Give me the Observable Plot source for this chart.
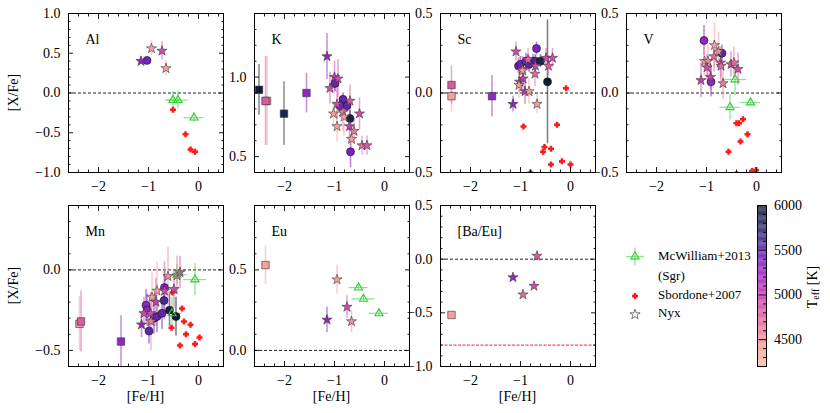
<!DOCTYPE html>
<html><head><meta charset="utf-8">
<script src="https://cdn.jsdelivr.net/npm/d3@7"></script>
<script src="https://cdn.jsdelivr.net/npm/@observablehq/plot@0.6"></script>
<style>
body{margin:0;background:#fff;}
#fig{position:relative;width:830px;height:413px;font-family:"Liberation Serif",serif;overflow:hidden;}
#fig svg{position:absolute;}
#fig svg text{font-family:"Liberation Serif",serif !important;font-weight:normal !important;}
</style></head><body><div id="fig"></div>
<script>
// ---------- data: [Fe/H], value, error, Teff ----------
const alNyx = [[-1.15,0.40,0.04,5300],[-0.94,0.56,0.095,4400],[-0.73,0.53,0.115,4900],[-0.65,0.31,0.095,4400]];
const alCirc = [[-1.03,0.41,0.03,5400]];
const alMcw = [[-0.51,-0.09,0.15,0.11],[-0.41,-0.09,0.2,0.11],[-0.09,-0.31,0.2,0.06]];
const alSbo = [[-0.51,-0.21],[-0.26,-0.52],[-0.16,-0.71],[-0.07,-0.74]];

const kNyx = [[-1.15,1.13,0.145,5300],[-1.00,1.00,0.1,5000],[-0.93,0.99,0.12,4900],[-1.09,0.93,0.1,4900],[-0.95,0.83,0.1,4900],[-0.69,0.85,0.1,4800],[-1.02,0.77,0.08,4400],[-0.83,0.78,0.12,4600],[-0.81,0.75,0.12,4400],[-0.50,0.77,0.1,4900],[-0.95,0.69,0.1,4400],[-0.70,0.69,0.1,5000],[-0.61,0.66,0.08,4600],[-0.66,0.61,0.1,4400],[-0.45,0.57,0.06,4700],[-0.35,0.57,0.06,4800]];
const kCirc = [[-0.99,0.96,0.05,5500],[-0.83,0.86,0.04,5500],[-0.89,0.82,0.05,5400],[-0.75,0.82,0.04,5500],[-0.69,0.74,0.05,5900],[-0.68,0.53,0.1,5400]];
const kSq = [[-2.51,0.92,0.16,6000],[-2.35,0.85,0.28,4400],[-2.38,0.85,0.28,4800],[-2.01,0.77,0.2,5900],[-1.56,0.90,0.125,5300]];

const scNyx = [[-1.15,-0.07,0.05,5300],[-1.09,0.26,0.06,4900],[-0.96,0.15,0.08,4900],[-0.96,0.14,0.06,4400],[-0.85,0.21,0.07,4700],[-1.02,0.07,0.07,5000],[-0.95,0.09,0.06,5000],[-1.03,0.05,0.08,4400],[-0.91,0.01,0.08,5100],[-0.83,0.01,0.08,4400],[-0.71,0.12,0.08,4700],[-0.70,0.17,0.07,4900],[-0.67,-0.07,0.06,4400],[-0.49,0.22,0.06,4900],[-0.44,0.17,0.06,4800],[-0.36,0.22,0.06,4900]];
const scCirc = [[-1.04,0.17,0.05,5400],[-1.00,0.18,0.05,5500],[-0.89,0.20,0.05,5400],[-0.83,0.18,0.05,5500],[-0.75,0.20,0.04,5500],[-0.70,0.20,0.04,5600],[-0.68,0.28,0.04,5400],[-0.60,0.20,0.04,5900],[-0.46,0.07,0.39,6000]];
const scSq = [[-2.38,-0.02,0.1,4400],[-2.38,0.05,0.12,4800],[-1.57,-0.02,0.13,5300]];
const scSbo = [[-0.94,-0.21],[-0.27,-0.20],[-0.52,-0.34],[-0.55,-0.37],[-0.39,-0.35],[-0.39,-0.45],[-0.17,-0.43],[0.0,-0.45],[-0.80,-0.50],[-0.09,0.03]];

const vNyx = [[-1.11,0.08,0.11,5000],[-1.04,0.20,0.1,4400],[-0.97,0.20,0.1,4500],[-0.99,0.16,0.08,4900],[-0.92,0.10,0.08,5000],[-0.84,0.30,0.14,4400],[-0.85,0.23,0.1,4700],[-0.76,0.26,0.12,4500],[-0.72,0.19,0.1,4900],[-0.71,0.17,0.1,4700],[-0.67,0.06,0.1,4600],[-0.51,0.18,0.08,4900],[-0.45,0.19,0.1,4700],[-0.37,0.15,0.1,4900]];
const vCirc = [[-1.05,0.33,0.095,5300],[-0.91,0.07,0.095,5300],[-0.69,0.25,0.05,5500]];
const vMcw = [[-0.43,0.085,0.23,0.1],[-0.53,-0.09,0.2,0.08],[-0.12,-0.06,0.2,0.02]];
const vSbo = [[-0.27,-0.165],[-0.40,-0.19],[-0.35,-0.19],[-0.18,-0.26],[-0.32,-0.305],[-0.56,-0.37],[-0.09,-0.49],[-0.01,-0.485],[-0.40,-0.51]];

const mnNyx = [[-1.14,-0.34,0.08,5300],[-1.09,-0.27,0.1,4900],[-0.96,-0.27,0.12,4900],[-0.93,-0.17,0.15,4400],[-0.95,-0.32,0.18,4600],[-0.85,-0.20,0.15,5000],[-0.83,-0.13,0.18,4400],[-0.68,-0.13,0.18,4900],[-0.61,-0.04,0.18,4500],[-0.49,-0.12,0.12,4900],[-0.43,-0.035,0.12,4700],[-0.37,-0.015,0.1,4900]];
const mnCirc = [[-1.05,-0.22,0.1,5300],[-1.03,-0.25,0.1,5300],[-0.99,-0.38,0.08,5500],[-0.89,-0.30,0.1,5400],[-0.83,-0.29,0.1,5500],[-0.73,-0.27,0.1,5500],[-0.69,-0.19,0.1,5600],[-0.68,-0.11,0.1,5400],[-0.58,-0.25,0.1,5900],[-0.45,-0.29,0.12,6000]];
const mnSq = [[-2.38,-0.335,0.17,4400],[-2.35,-0.32,0.19,4800],[-1.55,-0.445,0.16,5300]];
const mnMcw = [[-0.53,-0.27,0.2,0.1],[-0.43,-0.03,0.2,0.06],[-0.07,-0.06,0.23,0.1]];
const mnSbo = [[-0.52,-0.14],[-0.33,-0.24],[-0.54,-0.36],[-0.29,-0.32],[-0.16,-0.34],[-0.25,-0.40],[0.02,-0.42],[-0.07,-0.46],[-0.37,-0.47]];

const euNyx = [[-0.95,0.44,0.09,4400],[-0.75,0.27,0.07,4900],[-1.15,0.19,0.08,5300],[-0.66,0.18,0.07,4500]];
const euSq = [[-2.38,0.53,0.12,4400]];
const euMcw = [[-0.52,0.39,0.19,0.02],[-0.42,0.32,0.23,0.02],[-0.11,0.23,0.19,0.02]];

const baNyx = [[-0.67,0.03,0,4800],[-1.15,-0.17,0,5300],[-0.73,-0.25,0,4900],[-0.95,-0.33,0,4700]];
const baSq = [[-2.38,-0.52,0,4400]];
const baEuR = -0.80;

// colour map for Teff
const teffStops = [4200,4400,4600,4800,5000,5200,5400,5600,5800,6000];
const teffColors = ["#fbbca8","#f5a09c","#ea7c9b","#db5aa3","#c63cb2","#a62ac2","#7a22c4","#4a2a90","#2a2a5c","#0f1b30"];
const xTicks = [-2,-1,0];
const cbTicks = [4500,5000,5500,6000];

// ---------- helpers ----------
const fig = document.getElementById("fig");
const green = "#33cc33";
const FONT = "'Liberation Serif', serif";
const colorOpts = {type:"linear", domain: teffStops, range: teffColors, clamp:true};
const fmt1 = d => d3.format(".1f")(d).replace("-", "\u2212");
const fmt0 = d => d3.format("d")(d).replace("-", "\u2212");
function minors(dom, step, maj){
  const out=[]; const a=Math.ceil(dom[0]/step-1e-9), b=Math.floor(dom[1]/step+1e-9);
  for(let i=a;i<=b;i++){const v=+(i*step).toFixed(6); if(!maj.some(m=>Math.abs(m-v)<1e-9)) out.push(v);}
  return out;
}
const plusSym = {draw(ctx,size){const r=Math.sqrt(size/Math.PI),a=r,b=r*0.42;
  ctx.moveTo(-b,-a);ctx.lineTo(b,-a);ctx.lineTo(b,-b);ctx.lineTo(a,-b);ctx.lineTo(a,b);ctx.lineTo(b,b);
  ctx.lineTo(b,a);ctx.lineTo(-b,a);ctx.lineTo(-b,b);ctx.lineTo(-a,b);ctx.lineTo(-a,-b);ctx.lineTo(-b,-b);ctx.closePath();}};
const xDom = [-2.6, 0.5];

function panel(c){
  const ml=50, mr=10, mt=8, mb=30, W=155;
  const nyx=c.nyx||[], circ=c.circ||[], sq=c.sq||[], mcw=c.mcw||[], sbo=c.sbo||[];
  const yMin = minors(c.ydom, 0.1, c.yMaj);
  const xMin = minors(xDom, 0.2, xTicks);
  const ax = {stroke:"black", strokeWidth:0.9, fontFamily:FONT};
  const marks = [];
  if (c.zero !== false) marks.push(Plot.ruleY([0], {stroke:"#222", strokeDasharray:"3,2", strokeWidth:1}));
  if (c.redLine != null) marks.push(Plot.ruleY([c.redLine], {stroke:"#ff3030", strokeDasharray:"3,1.5", strokeWidth:1.3, strokeOpacity:0.85}));
  marks.push(
    Plot.ruleY(mcw, {y:d=>d[1], x1:d=>d[0]-d[2], x2:d=>d[0]+d[2], stroke:green, strokeOpacity:0.55, strokeWidth:1.3, clip:true}),
    Plot.ruleX(mcw, {x:d=>d[0], y1:d=>d[1]-d[3], y2:d=>d[1]+d[3], stroke:green, strokeOpacity:0.55, strokeWidth:1.3, clip:true}),
    Plot.ruleX(sq.filter(d=>d[2]>0), {x:d=>d[0], y1:d=>d[1]-d[2], y2:d=>d[1]+d[2], stroke:d=>d[3], strokeOpacity:0.5, strokeWidth:1.6, clip:true}),
    Plot.ruleX(circ, {x:d=>d[0], y1:d=>d[1]-d[2], y2:d=>d[1]+d[2], stroke:d=>d[3], strokeOpacity:0.55, strokeWidth:1.6, clip:true}),
    Plot.ruleX(nyx.filter(d=>d[2]>0), {x:d=>d[0], y1:d=>d[1]-d[2], y2:d=>d[1]+d[2], stroke:d=>d[3], strokeOpacity:0.5, strokeWidth:1.6, clip:true}),
    Plot.dot(sbo, {x:d=>d[0], y:d=>d[1], symbol:plusSym, r:3.0, fill:"#ff1a1a", stroke:"none", clip:true}),
    Plot.dot(sq, {x:d=>d[0], y:d=>d[1], symbol:"square", r:4.2, fill:d=>d[3], stroke:"#333", strokeWidth:0.6, clip:true}),
    Plot.dot(circ, {x:d=>d[0], y:d=>d[1], symbol:"circle", r:4.0, fill:d=>d[3], stroke:"#111", strokeWidth:0.6, clip:true}),
    Plot.dot(nyx, {x:d=>d[0], y:d=>d[1], symbol:"star", r:3.2, fill:d=>d[3], stroke:"#3a3a3a", strokeWidth:0.6, clip:true}),
    Plot.dot(mcw, {x:d=>d[0], y:d=>d[1], symbol:"triangle2", r:3.9, fill:"none", stroke:green, strokeWidth:1.1, clip:true}),
    Plot.frame({stroke:"black", strokeWidth:1}),
    Plot.axisX({anchor:"bottom", ticks:xTicks, tickSize:-5, tickPadding:14, tickFormat:fmt0, label:null, ...ax}),
    Plot.axisX({anchor:"bottom", ticks:xMin, tickSize:-2.5, tickFormat:()=>"", label:null, ...ax}),
    Plot.axisX({anchor:"top", ticks:xTicks, tickSize:-5, tickFormat:()=>"", label:null, ...ax}),
    Plot.axisX({anchor:"top", ticks:xMin, tickSize:-2.5, tickFormat:()=>"", label:null, ...ax}),
    Plot.axisY({anchor:"left", ticks:c.yMaj, tickSize:-5, tickPadding:13, tickFormat:fmt1, label:null, ...ax}),
    Plot.axisY({anchor:"left", ticks:yMin, tickSize:-2.5, tickFormat:()=>"", label:null, ...ax}),
    Plot.axisY({anchor:"right", ticks:c.yMaj, tickSize:-5, tickFormat:()=>"", label:null, ...ax}),
    Plot.axisY({anchor:"right", ticks:yMin, tickSize:-2.5, tickFormat:()=>"", label:null, ...ax}),
    Plot.text([c.name], {frameAnchor:"top-left", textAnchor:"start", dx:17, dy:21, fontSize:14, fontFamily:FONT})
  );
  const svg = Plot.plot({
    width:W+ml+mr, height:c.h+mt+mb, marginLeft:ml, marginRight:mr, marginTop:mt, marginBottom:mb,
    x:{domain:xDom}, y:{domain:c.ydom}, color:colorOpts,
    style:{fontFamily:FONT, fontSize:"14px", background:"transparent", overflow:"visible", color:"black"},
    marks
  });
  svg.style.position="absolute"; svg.style.left=(c.left-ml)+"px"; svg.style.top=(c.top-mt)+"px";
  svg.style.maxWidth="none";
  fig.appendChild(svg);
}

const cols=[68,254,440,626], rows=[13,205], hs=[159,161];
panel({name:"Al", left:cols[0], top:rows[0], h:hs[0], ydom:[-1,1], yMaj:[-1,-0.5,0,0.5,1], nyx:alNyx, circ:alCirc, mcw:alMcw, sbo:alSbo});
panel({name:"K", left:cols[1], top:rows[0], h:hs[0], ydom:[0.4,1.4], yMaj:[0.5,1.0], zero:false, nyx:kNyx, circ:kCirc, sq:kSq});
panel({name:"Sc", left:cols[2], top:rows[0], h:hs[0], ydom:[-0.5,0.5], yMaj:[-0.5,0,0.5], nyx:scNyx, circ:scCirc, sq:scSq, sbo:scSbo});
panel({name:"V", left:cols[3], top:rows[0], h:hs[0], ydom:[-0.5,0.5], yMaj:[-0.5,0,0.5], nyx:vNyx, circ:vCirc, mcw:vMcw, sbo:vSbo});
panel({name:"Mn", left:cols[0], top:rows[1], h:hs[1], ydom:[-0.6,0.4], yMaj:[-0.5,0], nyx:mnNyx, circ:mnCirc, sq:mnSq, mcw:mnMcw, sbo:mnSbo});
panel({name:"Eu", left:cols[1], top:rows[1], h:hs[1], ydom:[-0.1,0.9], yMaj:[0,0.5], nyx:euNyx, sq:euSq, mcw:euMcw});
panel({name:"[Ba/Eu]", left:cols[2], top:rows[1], h:hs[1], ydom:[-1,0.5], yMaj:[-1,-0.5,0,0.5], nyx:baNyx, sq:baSq, redLine:baEuR});

// ---------- colour bar ----------
(function(){
  const ml=2, mr=70, mt=8, mb=8, h=161;
  const cb = d3.range(4200, 6000, 10);
  const svg = Plot.plot({
    width:9+ml+mr, height:h+mt+mb, marginLeft:ml, marginRight:mr, marginTop:mt, marginBottom:mb,
    x:{domain:[0,1], axis:null}, y:{domain:[4200,6000]}, color:colorOpts,
    style:{fontFamily:FONT, fontSize:"14px", background:"transparent", overflow:"visible", color:"black"},
    marks:[
      Plot.rect(cb, {x1:0, x2:1, y1:d=>d, y2:d=>d+10, fill:d=>d+5}),
      Plot.frame({stroke:"black", strokeWidth:1}),
      Plot.axisY({anchor:"right", ticks:cbTicks, tickSize:-8.5, tickPadding:16, tickFormat:d=>String(d), label:null, stroke:"black", strokeWidth:0.9, fontFamily:FONT}),
      Plot.axisY({anchor:"right", ticks:minors([4200,6000],100,cbTicks), tickSize:-4, tickFormat:()=>"", label:null, stroke:"black", strokeWidth:0.9})
    ]
  });
  svg.style.position="absolute"; svg.style.left=(757-ml)+"px"; svg.style.top=(205-mt)+"px"; svg.style.maxWidth="none";
  fig.appendChild(svg);
})();

// ---------- labels & legend ----------
const ov = d3.select(fig).append("svg").attr("width",830).attr("height",413)
  .style("left","0px").style("top","0px").style("overflow","visible")
  .style("font-family",FONT);
[92.5, 285.5].forEach(cy => ov.append("text").attr("transform",`translate(15,${cy}) rotate(-90)`)
  .attr("text-anchor","middle").attr("dominant-baseline","middle").attr("font-size",14).text("[X/Fe]"));
[cols[0],cols[1],cols[2]].forEach(l => ov.append("text").attr("x",l+77.5).attr("y",398)
  .attr("text-anchor","middle").attr("dominant-baseline","middle").attr("font-size",14).text("[Fe/H]"));
const tl = ov.append("text").attr("transform","translate(814,287) rotate(-90)").attr("text-anchor","middle")
  .attr("dominant-baseline","middle").attr("font-size",14);
tl.append("tspan").text("T");
tl.append("tspan").attr("font-size",10).attr("dy",3).text("eff");
tl.append("tspan").attr("dy",-3).text(" [K]");

const lg = ov.append("g");
const lx = 635;
lg.append("line").attr("x1",lx-9).attr("x2",lx+9).attr("y1",256.5).attr("y2",256.5).attr("stroke",green).attr("stroke-opacity",0.55).attr("stroke-width",1.3);
lg.append("line").attr("x1",lx).attr("x2",lx).attr("y1",247.5).attr("y2",265.5).attr("stroke",green).attr("stroke-opacity",0.55).attr("stroke-width",1.3);
lg.append("path").attr("d",d3.symbol(d3.symbolTriangle2, Math.PI*3.9*3.9)()).attr("transform",`translate(${lx},256.5)`)
  .attr("fill","none").attr("stroke",green).attr("stroke-width",1.1);
lg.append("path").attr("d",d3.symbol(plusSym, Math.PI*3.0*3.0)()).attr("transform",`translate(${lx},296)`).attr("fill","#ff1a1a");
lg.append("path").attr("d",d3.symbol(d3.symbolStar, Math.PI*3.2*3.2)()).attr("transform",`translate(${lx},314.5)`)
  .attr("fill","none").attr("stroke","#555").attr("stroke-width",0.8);
[["McWilliam+2013",257],["(Sgr)",277],["Sbordone+2007",296],["Nyx",314.5]].forEach(([t,y]) =>
  lg.append("text").attr("x",658).attr("y",y).attr("dominant-baseline","middle").attr("font-size",13).text(t));
</script></body></html>
